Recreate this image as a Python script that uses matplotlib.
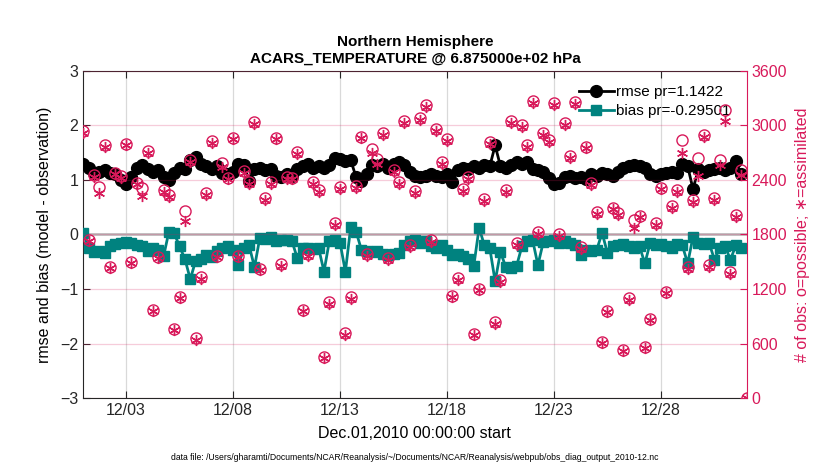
import numpy as np
import matplotlib
matplotlib.use("Agg")
import matplotlib.pyplot as plt

plt.rcParams['font.family'] = ['Liberation Sans', 'DejaVu Sans']

MAGENTA = '#d8195a'
TEAL = '#00827f'

# 6-hourly bins, Dec 1 00Z to Jan 1 00Z (x in day-of-month)
START_DAY = 1.0
STEP_DAYS = 0.25

rmse = [1.30, 1.22, 1.12, 1.15, 1.18, 1.12, 1.10, 1.00, 0.92, 1.05,
        1.22, 1.28, 1.20, 1.15, 1.18, 1.05, 1.00, 1.12, 1.22, 1.20,
        1.36, 1.42, 1.30, 1.25, 1.20, 1.25, 1.12, 1.10, 1.15, 1.30,
        1.28, 0.98, 1.20, 1.22, 1.18, 1.20, 1.08, 1.05, 1.10, 1.07,
        1.20, 1.25, 1.30, 1.22, 1.25, 1.22, 1.28, 1.40, 1.38, 1.35,
        1.36, 1.05, 0.98, 1.10, 1.28, 1.25, 1.30, 1.22, 1.30, 1.32,
        1.28, 1.15, 1.07, 1.05, 1.08, 1.10, 1.08, 1.05, 1.10, 0.97,
        1.18, 1.22, 1.20, 1.25, 1.22, 1.28, 1.25, 1.63, 1.25, 1.22,
        1.28, 1.32, 1.30, 1.33, 1.20, 1.18, 1.15, 1.03, 0.92, 0.95,
        1.05, 1.08, 1.03, 1.05, 1.02, 1.10, 1.08, 1.12, 1.10, 1.08,
        1.15, 1.22, 1.25, 1.28, 1.25, 1.22, 1.10, 1.08, 1.10, 1.12,
        1.15, 1.12, 1.30, 1.25, 0.83, 1.20, 1.15, 1.18, 1.20, 1.22,
        1.18, 1.22, 1.35, 1.10, np.nan]

bias = [0.03, -0.25, -0.32, -0.30, -0.34, -0.22, -0.18, -0.15, -0.14, -0.16,
        -0.20, -0.22, -0.30, -0.25, -0.28, -0.40, 0.05, 0.02, -0.22, -0.45,
        -0.82, -0.48, -0.45, -0.38, -0.42, -0.30, -0.25, -0.22, -0.28, -0.56,
        -0.25, -0.20, -0.60, -0.06, -0.08, -0.05, -0.12, -0.10, -0.10, -0.12,
        -0.43, -0.25, -0.24, -0.26, -0.25, -0.68, -0.12, -0.10, -0.15, -0.68,
        0.14, 0.05, -0.28, -0.30, -0.32, -0.30, -0.35, -0.38, -0.36, -0.34,
        -0.20, -0.12, -0.10, -0.15, -0.12, -0.22, -0.25, -0.20, -0.28, -0.37,
        -0.35, -0.40, -0.45, -0.58, 0.12, -0.20, -0.25, -0.86, -0.32, -0.60,
        -0.62, -0.58, -0.22, -0.12, -0.10, -0.56, -0.14, -0.12, -0.10, -0.15,
        -0.12, -0.15, -0.20, -0.38, -0.28, -0.30, -0.28, 0.03, -0.34, -0.22,
        -0.20, -0.18, -0.22, -0.25, -0.22, -0.53, -0.15, -0.20, -0.18, -0.22,
        -0.25, -0.18, -0.20, -0.53, -0.04, -0.15, -0.18, -0.15, -0.46, -0.25,
        -0.22, -0.46, -0.20, -0.25, np.nan]

n_possible = [2938, 1739, 2454, 2322, 2784, 1444, 2480, 2443, 2795, 1501,
              2370, 2311, 2721, 970, 1556, 2289, 2234, 758, 1117, 2062,
              2619, 659, 1330, 2254, 2828, 1567, 2582, 2424, 2864, 1567,
              2498, 2381, 3033, 1421, 2198, 2374, 2864, 1473, 2435, 2424,
              2703, 970, 1583, 2381, 2289, 457, 1055, 1923, 2326, 714,
              1110, 2337, 2875, 1583, 2740, 2627, 2912, 1545, 2509, 2374,
              3048, 1685, 2275, 3077, 3220, 1740, 2960, 2600, 2850, 1128,
              1326, 2300, 2435, 703, 1201, 2187, 2813, 835, 1300, 2289,
              3048, 1703, 3000, 2784, 3264, 1824, 2912, 2839, 3242, 1802,
              3022, 2666, 3253, 1666, 2765, 2363, 2051, 622, 963, 2095,
              2033, 531, 1099, 1955, 2007, 567, 872, 1923, 2315, 1172,
              2117, 2289, 2839, 1446, 2179, 2638, 2894, 1465, 2198, 2619,
              3168, 1391, 2014, 2509, 0]

n_assim = [2920, 1725, 2430, 2260, 2765, 1430, 2460, 2425, 2780, 1485,
           2350, 2225, 2700, 955, 1540, 2270, 2215, 745, 1100, 1950,
           2600, 645, 1315, 2235, 2810, 1550, 2540, 2405, 2845, 1550,
           2480, 2360, 3015, 1405, 2180, 2355, 2845, 1455, 2415, 2405,
           2685, 955, 1565, 2360, 2270, 445, 1040, 1905, 2305, 700,
           1095, 2315, 2855, 1565, 2700, 2580, 2890, 1525, 2490, 2355,
           3025, 1665, 2255, 3055, 3200, 1720, 2940, 2580, 2830, 1110,
           1305, 2280, 2415, 690, 1185, 2165, 2790, 815, 1280, 2270,
           3030, 1685, 2980, 2765, 3245, 1805, 2890, 2815, 3220, 1785,
           3000, 2645, 3230, 1645, 2745, 2340, 2030, 605, 945, 2075,
           2015, 515, 1080, 1870, 1990, 550, 855, 1905, 2295, 1155,
           2095, 2270, 2700, 1425, 2160, 2440, 2875, 1445, 2180, 2560,
           3050, 1370, 1995, 2450, 0]

tick_days = [3, 8, 13, 18, 23, 28]
tick_labels = ['12/03', '12/08', '12/13', '12/18', '12/23', '12/28']

days = START_DAY + STEP_DAYS * np.arange(len(rmse))

fig = plt.figure(figsize=(8.3, 4.7), dpi=100)
ax = fig.add_axes([0.1004, 0.1526, 0.7990, 0.6970])

ax.axhline(0, color='#bdbdbd', lw=2.0, zorder=1)
ax.plot(days, rmse, '-o', color='black', lw=2, ms=8.5, mfc='black',
        mec='black', label='rmse pr=1.1422', zorder=3)
ax.plot(days, bias, '-s', color=TEAL, lw=2, ms=7.5, mfc=TEAL,
        mec=TEAL, label='bias pr=-0.29501', zorder=3)

ax.set_xlim(days[0], days[-1])
ax.set_ylim(-3, 3)
ax.set_yticks([-3, -2, -1, 0, 1, 2, 3])
ax.set_xticks(tick_days)
ax.set_xticklabels(tick_labels)
ax.grid(axis='x', color='#d9d9d9', lw=0.9)
ax.set_axisbelow(True)
ax.tick_params(direction='in', length=5, top=True, right=False,
               labelsize=11.5, width=0.8, colors='#262626')
for s in ['left', 'top', 'bottom']:
    ax.spines[s].set_color('#262626')
ax.spines['right'].set_visible(False)
ax.set_ylabel('rmse and bias (model - observation)', fontsize=11.5,
              labelpad=6)
ax.set_xlabel('Dec.01,2010 00:00:00 start', fontsize=11.5, labelpad=6)
ax.set_title('Northern Hemisphere\nACARS_TEMPERATURE @ 6.875000e+02 hPa',
             fontsize=11, fontweight='bold', pad=6, linespacing=1.2)

leg = ax.legend(loc='upper right', bbox_to_anchor=(0.985, 0.975),
                frameon=False, fontsize=11, handlelength=2.3,
                handletextpad=0.15, labelspacing=0.35, borderaxespad=0)

ax2 = ax.twinx()
ax2.plot(days, n_possible, 'o', ls='none', ms=8, mfc='none', mec=MAGENTA,
         mew=1.0, zorder=4)
ax2.plot(days, n_assim, marker=(6, 2, 0), ls='none', ms=8, color=MAGENTA,
         mew=1.0, zorder=4)
ax2.set_ylim(0, 3600)
ax2.set_yticks(np.arange(0, 3601, 600))
ax2.grid(axis='y', color=MAGENTA, alpha=0.22, lw=0.9)
ax2.tick_params(direction='in', length=5, colors=MAGENTA, labelsize=11.5,
                width=0.8)
ax2.spines['right'].set_color(MAGENTA)
ax2.spines['left'].set_visible(False)
ax2.spines['top'].set_visible(False)
ax2.spines['bottom'].set_visible(False)
ax2.set_ylabel('# of obs: o=possible; \u2217=assimilated', color=MAGENTA,
               fontsize=11.5, labelpad=6)

fig.text(0.5, 1 - 457.5 / 470,
         'data file: /Users/gharamti/Documents/NCAR/Reanalysis/~/Documents/'
         'NCAR/Reanalysis/webpub/obs_diag_output_2010-12.nc',
         ha='center', va='center', fontsize=6.2)

fig.savefig('out.png', dpi=100)
